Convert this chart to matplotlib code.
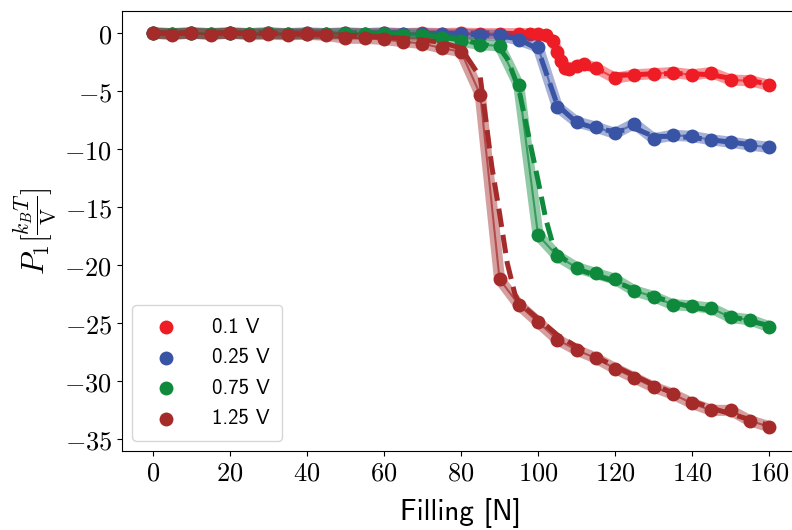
import matplotlib
matplotlib.use('Agg')
import matplotlib.pyplot as plt
from matplotlib.ticker import FuncFormatter

plt.rcParams['mathtext.fontset'] = 'cm'

# 0.1 V
n_01 = [0, 5, 10, 15, 20, 25, 30, 35, 40, 45, 50, 55, 60, 65, 70, 75, 80, 85, 90, 95,
        98, 100, 102, 104, 105, 106, 107, 108, 110, 112, 115, 120, 125, 130, 135,
        140, 145, 150, 155, 160]
p_01 = [0.0, -0.05, 0.0, -0.05, 0.0, -0.05, 0.0, -0.05, 0.0, -0.05, 0.0, -0.05, 0.0,
        -0.05, 0.0, -0.05, 0.0, -0.05, -0.05, -0.05,
        -0.05, -0.1, -0.2, -0.7, -1.6, -2.4, -3.0, -3.1, -2.8, -2.7, -3.0, -3.9, -3.6,
        -3.5, -3.4, -3.6, -3.4, -4.05, -4.1, -4.5]
fit_01 = [0.0, 0.0, 0.0, 0.0, 0.0, 0.0, 0.0, 0.0, 0.0, 0.0, 0.0, 0.0, 0.0, 0.0, 0.0,
          0.0, 0.0, 0.0, 0.0, -0.05,
          -0.1, -0.15, -0.3, -0.8, -1.5, -2.3, -2.9, -3.0, -3.0, -3.0, -3.1, -3.6, -3.6,
          -3.5, -3.5, -3.5, -3.6, -3.9, -4.1, -4.4]

# 0.25 V
n_025 = [0, 5, 10, 15, 20, 25, 30, 35, 40, 45, 50, 55, 60, 65, 70, 75, 80, 85, 90, 95,
         100, 105, 110, 115, 120, 125, 130, 135, 140, 145, 150, 155, 160]
p_025 = [0.0, -0.05, 0.0, -0.05, 0.0, -0.05, 0.0, -0.05, 0.0, -0.05, 0.0, -0.05, 0.0,
         -0.05, -0.05, -0.1, -0.1, -0.15, -0.2, -0.6,
         -1.2, -6.35, -7.65, -8.1, -8.65, -7.8, -9.1, -8.8, -8.9, -9.2, -9.4, -9.65, -9.85]
fit_025 = [0.0, 0.0, 0.0, 0.0, 0.0, 0.0, 0.0, 0.0, 0.0, 0.0, 0.0, 0.0, 0.0, 0.0, -0.05,
           -0.1, -0.1, -0.15, -0.25, -0.5,
           -1.4, -6.2, -7.7, -8.2, -8.5, -8.2, -8.9, -8.9, -9.0, -9.2, -9.4, -9.6, -9.9]

# 0.75 V
n_075 = [0, 5, 10, 15, 20, 25, 30, 35, 40, 45, 50, 55, 60, 65, 70, 75, 80, 85, 90, 95,
         100, 105, 110, 115, 120, 125, 130, 135, 140, 145, 150, 155, 160]
p_075 = [0.0, -0.05, 0.0, -0.05, 0.0, -0.05, 0.0, -0.1, -0.05, -0.1, -0.05, -0.1, -0.1,
         -0.15, -0.2, -0.4, -0.7, -1.0, -1.1, -4.5,
         -17.4, -19.2, -20.2, -20.7, -21.2, -22.2, -22.7, -23.4, -23.5, -23.7, -24.5,
         -24.7, -25.3]
n_075_fit = [0, 10, 20, 30, 40, 50, 60, 70, 75, 80, 85, 90, 92, 95, 97, 100, 102, 104,
             105, 110, 115, 120, 125, 130, 135, 140, 145, 150, 155, 160]
fit_075 = [0.0, 0.0, 0.0, -0.05, -0.05, -0.05, -0.1, -0.2, -0.35, -0.6, -0.9, -1.3,
           -2.2, -4.8, -8.0, -12.7, -16.0, -18.4, -19.0, -20.3, -20.9, -21.4, -22.1,
           -22.7, -23.2, -23.6, -23.9, -24.4, -24.8, -25.2]

# 1.25 V
n_125 = [0, 5, 10, 15, 20, 25, 30, 35, 40, 45, 50, 55, 60, 65, 70, 75, 80, 85, 90, 95,
         100, 105, 110, 115, 120, 125, 130, 135, 140, 145, 150, 155, 160]
p_125 = [0.0, -0.15, 0.0, -0.15, 0.0, -0.15, -0.1, -0.15, -0.1, -0.2, -0.45, -0.45,
         -0.55, -0.75, -0.9, -1.3, -1.6, -5.3, -21.2, -23.4,
         -24.9, -26.4, -27.3, -28.0, -28.9, -29.7, -30.5, -31.1, -31.9, -32.5, -32.5,
         -33.4, -33.9]
n_125_fit = [0, 10, 20, 30, 40, 50, 60, 70, 75, 80, 85, 88, 90, 92, 94, 95, 100, 105,
             110, 115, 120, 125, 130, 135, 140, 145, 150, 155, 160]
fit_125 = [0.0, 0.0, 0.0, -0.05, -0.1, -0.2, -0.35, -0.6, -0.8, -1.3, -3.8, -11.5,
           -15.5, -19.8, -22.5, -23.2, -24.6, -26.0, -27.0, -27.9, -28.7, -29.5, -30.3,
           -31.0, -31.7, -32.3, -32.8, -33.3, -33.8]

series = [
    ('0.1 V', n_01, p_01, n_01, fit_01, '#ee1c24'),
    ('0.25 V', n_025, p_025, n_025, fit_025, '#3953a5'),
    ('0.75 V', n_075, p_075, n_075_fit, fit_075, '#0f8a3c'),
    ('1.25 V', n_125, p_125, n_125_fit, fit_125, '#a52a2a'),
]

fig = plt.figure(figsize=(7.92, 5.30), dpi=100)
ax = fig.add_axes([122 / 792, 1 - 451 / 530, 678 / 792, 440 / 530])

for i, (lab, n, p, nf, pf, col) in enumerate(series):
    z = 2 + 4 * i
    ax.plot(n, p, color=col, lw=8, alpha=0.45, solid_capstyle='round',
            solid_joinstyle='round', zorder=z)
    ax.plot(n, p, color=col, lw=1.5, alpha=0.7, zorder=z + 0.5)
    ax.plot(nf, pf, color=col, lw=3.6, ls='--', zorder=z + 1)
    ax.scatter(n, p, s=100, color=col, lw=0, zorder=z + 2, label=lab)

ax.set_xlim(-8, 168)
ax.set_ylim(-36.0, 1.9)
ax.set_xticks(range(0, 161, 20))
ax.set_yticks(range(-35, 1, 5))
fmt = FuncFormatter(lambda v, pos: r'$%g$' % v)
ax.xaxis.set_major_formatter(fmt)
ax.yaxis.set_major_formatter(fmt)
ax.tick_params(labelsize=19)

ax.set_xlabel('Filling [N]', family='cmss10', fontsize=21, labelpad=8)
ax.set_ylabel(r'$P_1[\frac{k_BT}{\mathrm{V}}]$', fontsize=22, labelpad=4)

ax.legend(loc='lower left', prop={'family': 'cmss10', 'size': 15},
          handletextpad=1.2, borderpad=0.6, labelspacing=0.55)

fig.savefig('out.png', dpi=100)
